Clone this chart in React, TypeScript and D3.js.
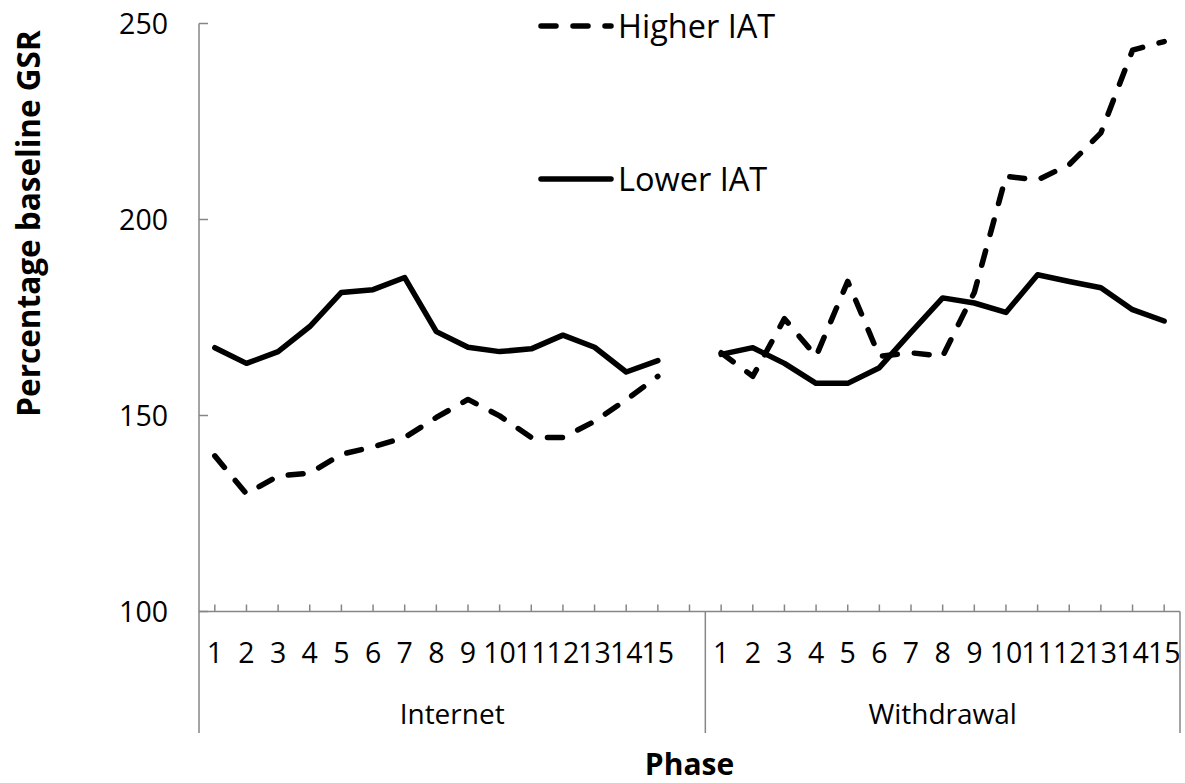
import React from "react";
import * as d3 from "d3";

const phaseLabels = ["1","2","3","4","5","6","7","8","9","10","11","12","13","14","15"];
const groups = ["Internet", "Withdrawal"];
const yTicks = [100, 150, 200, 250];

const higherInternet = [139.7, 130.0, 134.6, 135.3, 140.1, 142.0, 144.4, 149.5, 154.1, 149.9, 144.4, 144.4, 148.5, 154.0, 160.0];
const higherWithdrawal = [166.0, 160.0, 174.7, 165.1, 184.2, 165.1, 166.0, 165.1, 181.4, 211.0, 210.1, 214.0, 222.1, 243.2, 245.4];
const lowerInternet = [167.3, 163.3, 166.3, 172.7, 181.4, 182.1, 185.2, 171.4, 167.4, 166.3, 167.0, 170.5, 167.4, 161.1, 164.0];
const lowerWithdrawal = [165.6, 167.3, 163.3, 158.2, 158.2, 162.2, 171.2, 180.0, 178.7, 176.3, 185.9, 184.2, 182.6, 177.0, 174.1];

// categories: 15 Internet + one blank (belonging to Internet) + 15 Withdrawal
type Cat = { key: string; label: string; group: string };
const categories: Cat[] = [
  ...phaseLabels.map((l) => ({ key: "I" + l, label: l, group: groups[0] })),
  { key: "I_blank", label: "", group: groups[0] },
  ...phaseLabels.map((l) => ({ key: "W" + l, label: l, group: groups[1] })),
];

const seriesValues = (a: number[], b: number[]) => [...a, null, ...b] as (number | null)[];

const series = [
  { name: "Higher IAT", values: seriesValues(higherInternet, higherWithdrawal), dash: "15,17" },
  { name: "Lower IAT", values: seriesValues(lowerInternet, lowerWithdrawal), dash: null as string | null },
];

const W = 1185;
const H = 783;
const left = 199;
const right = 1180;
const top = 23.5;
const bottom = 611.5;
const gray = "#868686";
const font = "'Open Sans', 'DejaVu Sans', sans-serif";

export default function App() {
  const x = d3
    .scaleBand<string>()
    .domain(categories.map((c) => c.key))
    .range([left, right])
    .paddingInner(0)
    .paddingOuter(0);
  const y = d3.scaleLinear().domain([100, 250]).range([bottom, top]);
  const cx = (k: string) => (x(k) as number) + x.bandwidth() / 2;

  const line = d3
    .line<number | null>()
    .defined((d) => d !== null)
    .x((_, i) => cx(categories[i].key))
    .y((d) => y(d as number));

  const groupExtents = groups.map((g) => {
    const cats = categories.filter((c) => c.group === g);
    const x0 = x(cats[0].key) as number;
    const x1 = (x(cats[cats.length - 1].key) as number) + x.bandwidth();
    return { g, x0, x1 };
  });

  const lineW = 5.5;

  return (
    <svg
      width={W}
      height={H}
      style={{ position: "absolute", left: 0, top: 0, background: "#fff" }}
      fontFamily={font}
    >
      <rect x={0} y={0} width={W} height={H} fill="#fff" />
      {/* y axis */}
      <line x1={left} x2={left} y1={top} y2={733} stroke={gray} strokeWidth={1.5} />
      {yTicks.map((t) => (
        <g key={t}>
          <line x1={left} x2={left + 9} y1={y(t)} y2={y(t)} stroke={gray} strokeWidth={1.5} />
          <text x={168} y={y(t) + 10} textAnchor="end" fontSize={28.5} fill="#000">
            {t}
          </text>
        </g>
      ))}
      {/* x axis */}
      <line x1={left} x2={right} y1={bottom} y2={bottom} stroke={gray} strokeWidth={1.5} />
      {categories.map((c) => (
        <line
          key={"t" + c.key}
          x1={cx(c.key)}
          x2={cx(c.key)}
          y1={bottom}
          y2={bottom - 7}
          stroke={gray}
          strokeWidth={1.5}
        />
      ))}
      {categories.map((c) => (
        <text key={"l" + c.key} x={cx(c.key)} y={663} textAnchor="middle" fontSize={28.5} fill="#000">
          {c.label}
        </text>
      ))}
      {groupExtents.map((ge) => (
        <g key={ge.g}>
          <line x1={ge.x1} x2={ge.x1} y1={bottom} y2={733} stroke={gray} strokeWidth={1.5} />
          <text x={(ge.x0 + ge.x1) / 2} y={724} textAnchor="middle" fontSize={28} fill="#000">
            {ge.g}
          </text>
        </g>
      ))}
      {/* axis titles */}
      <text x={(left + right) / 2} y={775} textAnchor="middle" fontSize={30} fontWeight="bold" fill="#000">
        Phase
      </text>
      <text
        transform={`translate(40, ${(25 + 422) / 2}) rotate(-90)`}
        textAnchor="middle"
        fontSize={31.5}
        fontWeight="bold"
        fill="#000"
      >
        Percentage baseline GSR
      </text>
      {/* series */}
      {series.map((s) => (
        <path
          key={s.name}
          d={line(s.values) as string}
          fill="none"
          stroke="#000"
          strokeWidth={lineW}
          strokeLinecap="round"
          strokeLinejoin="round"
          strokeDasharray={s.dash ?? undefined}
        />
      ))}
      {/* legend */}
      {series.map((s, i) => {
        const ly = i === 0 ? 26 : 179;
        return (
          <g key={"lg" + s.name}>
            <line
              x1={541}
              x2={611}
              y1={ly}
              y2={ly}
              stroke="#000"
              strokeWidth={lineW}
              strokeLinecap="round"
              strokeDasharray={s.dash ?? undefined}
            />
            <text x={618} y={ly + 12} fontSize={32.5} fill="#000">
              {s.name}
            </text>
          </g>
        );
      })}
    </svg>
  );
}
